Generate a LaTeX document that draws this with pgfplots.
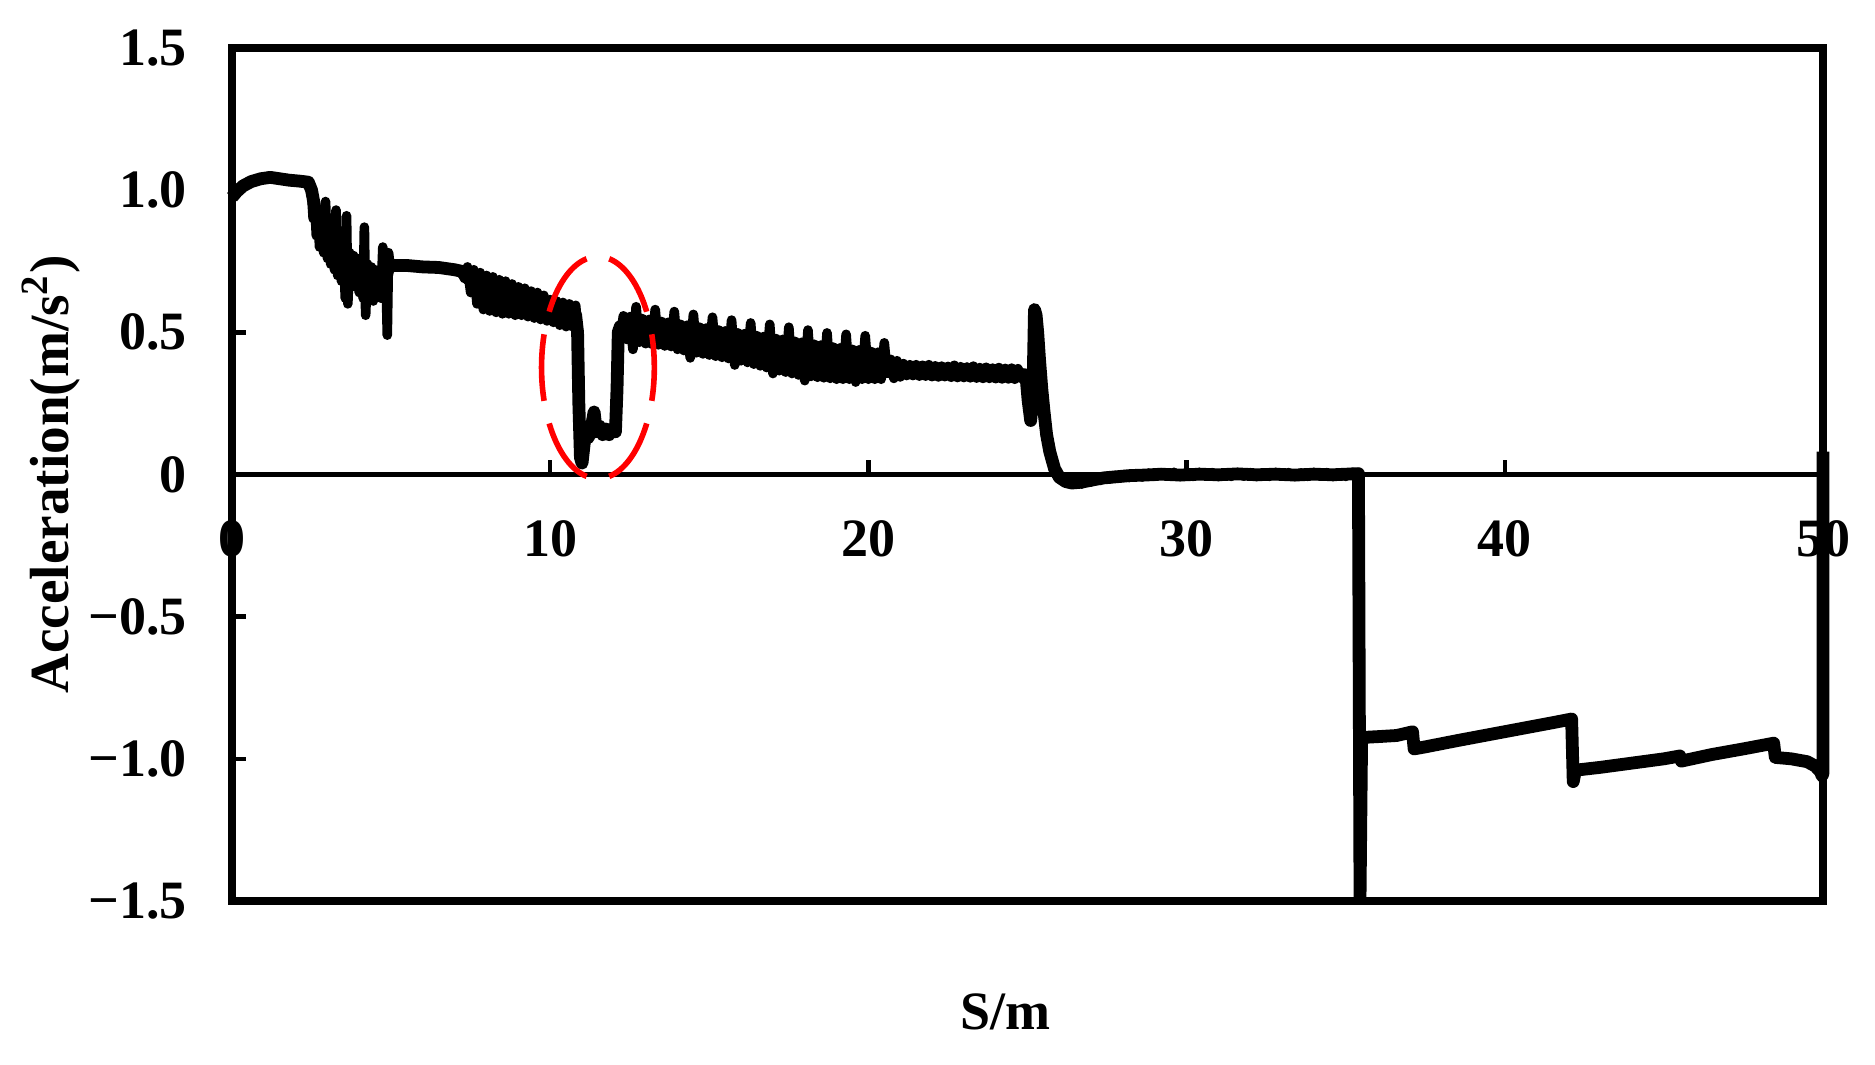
\documentclass[border=0pt]{standalone}
\usepackage{fontspec}
\setmainfont{Liberation Serif}
\usepackage{pgfplots}
\pgfplotsset{compat=1.18}
\begin{document}
\begin{tikzpicture}
\begin{axis}[
  name=ax,
  scale only axis,
  width=397.75pt, height=213.25pt,
  xmin=0, xmax=50, ymin=-1.5, ymax=1.5,
  axis x line=middle,
  axis y line=left,
  axis line style={-},
  every inner x axis line/.append style={-},
  every outer y axis line/.append style={-},
  x axis line style={line width=1.1pt},
  y axis line style={line width=1.9pt},
  hide obscured x ticks=false,
  hide obscured y ticks=false,
  xtick={0,10,20,30,40,50},
  xticklabels={0,10,20,30,40,50},
  ytick={-1.5,-1,-0.5,0,0.5,1,1.5},
  yticklabels={−1.5,−1.0,−0.5,0,0.5,1.0,1.5},
  tick align=inside,
  major tick length=3.6pt,
  tick style={black, line width=1.1pt},
  tick label style={font=\fontsize{13.5}{16}\selectfont\bfseries},
  xticklabel style={anchor=north, yshift=-8pt},
  yticklabel style={anchor=east, xshift=-7.75pt},
  xlabel={S/m},
  ylabel={Acceleration(m/s\textsuperscript{2})},
  every axis x label/.style={at={(rel axis cs:0.4859,-0.130)}, anchor=center, font=\fontsize{13.5}{16}\selectfont\bfseries},
  every axis y label/.style={at={(rel axis cs:-0.1138,0.5)}, rotate=90, anchor=center, font=\fontsize{13.8}{16}\selectfont\bfseries},
  clip=false,
]
% main trace
\addplot[black, line width=3.2pt, line join=round] table {
x y
0 0.975
0.15 0.995
0.35 1.015
0.6 1.03
0.9 1.04
1.2 1.045
1.5 1.04
1.8 1.035
2.1 1.032
2.4 1.028
2.5 1.0
2.6 0.94
2.8 0.86
3.0 0.80
3.2 0.76
3.4 0.73
3.7 0.71
4.0 0.70
4.4 0.68
4.8 0.68
4.9 0.72
5.0 0.735
5.5 0.735
6.0 0.73
6.5 0.728
7.0 0.72
7.2 0.715
7.5 0.68
8.0 0.645
8.5 0.625
9.0 0.61
9.5 0.60
10.0 0.575
10.5 0.56
10.8 0.56
10.86 0.50
10.9 0.25
10.95 0.06
11.0 0.04
11.07 0.11
11.15 0.15
11.2 0.13
11.3 0.17
11.38 0.22
11.45 0.15
11.55 0.17
11.65 0.14
11.75 0.16
11.85 0.14
11.95 0.16
12.05 0.15
12.1 0.30
12.14 0.50
12.2 0.52
12.5 0.51
13.0 0.50
14.0 0.485
15.0 0.465
16.0 0.445
17.0 0.425
18.0 0.405
19.0 0.39
20.0 0.38
20.55 0.37
20.7 0.37
21.5 0.365
22.5 0.36
23.5 0.358
24.5 0.355
24.95 0.35
25.02 0.26
25.1 0.19
25.17 0.28
25.22 0.58
25.27 0.56
25.32 0.50
25.38 0.40
25.45 0.30
25.52 0.22
25.6 0.14
25.7 0.08
25.85 0.02
26.0 -0.01
26.2 -0.025
26.4 -0.03
26.7 -0.027
27.0 -0.02
27.4 -0.012
27.8 -0.008
28.2 -0.004
28.7 -0.002
29.2 0.001
29.8 -0.002
30.4 0.001
31.0 -0.001
31.6 0.002
32.2 -0.001
32.8 0.001
33.4 -0.002
34.0 0.001
34.6 -0.001
35.2 0.002
35.4 0.003
35.45 -1.49
35.5 -0.925
36.0 -0.922
36.6 -0.918
37.1 -0.905
37.15 -0.965
37.5 -0.958
38.5 -0.936
39.5 -0.915
40.5 -0.894
41.5 -0.873
42.1 -0.86
42.15 -1.08
42.22 -1.04
43.0 -1.03
44.0 -1.015
45.0 -1.0
45.5 -0.99
45.55 -1.008
46.5 -0.985
47.5 -0.965
48.45 -0.945
48.5 -0.995
49.0 -1.0
49.5 -1.01
49.75 -1.025
49.92 -1.045
49.97 -1.06
50 -1.05
50 0.08
};
% noisy segment 2.5-5
\addplot[black, line width=2.4pt, line join=round] table {
x y
2.45 1.03
2.5 0.99
2.55 0.90
2.6 0.95
2.65 0.84
2.7 0.92
2.75 0.80
2.82 0.90
2.88 0.78
2.94 0.96
3.0 0.76
3.06 0.88
3.1 0.74
3.16 0.84
3.22 0.72
3.27 0.93
3.32 0.70
3.38 0.82
3.44 0.68
3.5 0.80
3.56 0.62
3.6 0.91
3.64 0.60
3.7 0.78
3.76 0.66
3.82 0.77
3.88 0.66
3.94 0.76
4.0 0.64
4.06 0.75
4.12 0.62
4.16 0.87
4.2 0.56
4.26 0.74
4.32 0.62
4.38 0.73
4.44 0.61
4.5 0.72
4.56 0.63
4.62 0.71
4.68 0.62
4.74 0.80
4.78 0.63
4.84 0.70
4.88 0.49
4.92 0.78
4.96 0.74
5.0 0.73
};
% noisy segment 7.2-10.85
\addplot[black, line width=2.4pt, line join=round] table {
x y
7.2 0.735
7.3 0.69
7.4 0.73
7.5 0.64
7.6 0.72
7.7 0.60
7.8 0.71
7.9 0.58
8.0 0.70
8.1 0.575
8.2 0.695
8.3 0.57
8.4 0.685
8.5 0.565
8.6 0.68
8.7 0.565
8.8 0.67
8.9 0.56
9.0 0.66
9.1 0.56
9.2 0.655
9.3 0.555
9.4 0.645
9.5 0.55
9.6 0.64
9.7 0.545
9.8 0.63
9.9 0.54
10.0 0.615
10.1 0.535
10.2 0.61
10.3 0.525
10.4 0.605
10.5 0.52
10.6 0.60
10.7 0.52
10.8 0.595
10.85 0.53
};
% noisy segment 12.2-20.6
\addplot[black, line width=2.4pt, line join=round] table {
x y
12.2 0.48
12.3 0.558
12.4 0.475
12.5 0.555
12.6 0.44
12.7 0.59
12.8 0.465
12.9 0.548
13.0 0.46
13.1 0.545
13.2 0.458
13.3 0.58
13.4 0.456
13.5 0.538
13.6 0.452
13.7 0.535
13.8 0.45
13.9 0.573
14.0 0.44
14.1 0.528
14.2 0.436
14.3 0.525
14.4 0.41
14.5 0.563
14.6 0.428
14.7 0.518
14.8 0.424
14.9 0.515
15.0 0.42
15.1 0.553
15.2 0.416
15.3 0.508
15.4 0.412
15.5 0.505
15.6 0.408
15.7 0.543
15.8 0.385
15.9 0.498
16.0 0.40
16.1 0.495
16.2 0.394
16.3 0.533
16.4 0.388
16.5 0.488
16.6 0.382
16.7 0.485
16.8 0.376
16.9 0.528
17.0 0.355
17.1 0.478
17.2 0.365
17.3 0.475
17.4 0.36
17.5 0.518
17.6 0.355
17.7 0.468
17.8 0.35
17.9 0.465
18.0 0.33
18.1 0.508
18.2 0.345
18.3 0.458
18.4 0.342
18.5 0.455
18.6 0.34
18.7 0.498
18.8 0.338
18.9 0.448
19.0 0.335
19.1 0.445
19.2 0.335
19.3 0.493
19.4 0.335
19.5 0.44
19.6 0.325
19.7 0.438
19.8 0.335
19.9 0.488
20.0 0.335
20.1 0.432
20.2 0.335
20.3 0.43
20.4 0.335
20.5 0.463
20.6 0.34
};
% noisy segment 20.6-25
\addplot[black, line width=2.4pt, line join=round] table {
x y
20.6 0.34
20.7 0.405
20.8 0.338
20.9 0.40
21.0 0.343
21.1 0.39
21.2 0.348
21.3 0.386
21.4 0.348
21.5 0.386
21.6 0.346
21.7 0.384
21.8 0.346
21.9 0.386
22.0 0.344
22.1 0.382
22.2 0.343
22.3 0.381
22.4 0.344
22.5 0.38
22.6 0.342
22.7 0.384
22.8 0.341
22.9 0.379
23.0 0.341
23.1 0.378
23.2 0.34
23.3 0.381
23.4 0.339
23.5 0.376
23.6 0.338
23.7 0.377
23.8 0.338
23.9 0.374
24.0 0.337
24.1 0.376
24.2 0.336
24.3 0.373
24.4 0.336
24.5 0.374
24.6 0.335
24.7 0.372
24.8 0.338
24.9 0.371
};
% noisy segment 26.4-35.4
\addplot[black, line width=1.8pt, line join=round] table {
x y
26.4 -0.042
26.55 -0.02
26.7 -0.038
26.85 -0.016
27.0 -0.031
27.15 -0.009
27.3 -0.025
27.45 -0.003
27.6 -0.02
27.75 0.001
27.9 -0.017
28.05 0.004
28.2 -0.015
28.4 0.007
28.6 -0.013
28.8 0.009
29.0 -0.011
29.2 0.011
29.4 -0.01
29.6 0.012
29.8 -0.012
30.0 0.01
30.2 -0.011
30.4 0.012
30.6 -0.01
30.8 0.011
31.0 -0.012
31.2 0.01
31.4 -0.011
31.6 0.012
31.8 -0.01
32.0 0.011
32.2 -0.012
32.4 0.01
32.6 -0.011
32.8 0.012
33.0 -0.01
33.2 0.011
33.4 -0.012
33.6 0.01
33.8 -0.011
34.0 0.012
34.2 -0.01
34.4 0.011
34.6 -0.012
34.8 0.01
35.0 -0.011
35.2 0.012
35.4 0.0
};
\draw[line width=1.9pt] (rel axis cs:0,0) rectangle (rel axis cs:1,1);
\draw[red, line width=1.4pt, dash pattern=on 16.7pt off 5.8pt, dash phase=8.35pt]
  (axis cs:11.5,0.376) ellipse [x radius=14.1pt, y radius=27.75pt];
\end{axis}
\pgfresetboundingbox
\path ([xshift=-58pt,yshift=-41pt]ax.south west) rectangle ([xshift=13pt,yshift=12pt]ax.north east);
\end{tikzpicture}
\end{document}
